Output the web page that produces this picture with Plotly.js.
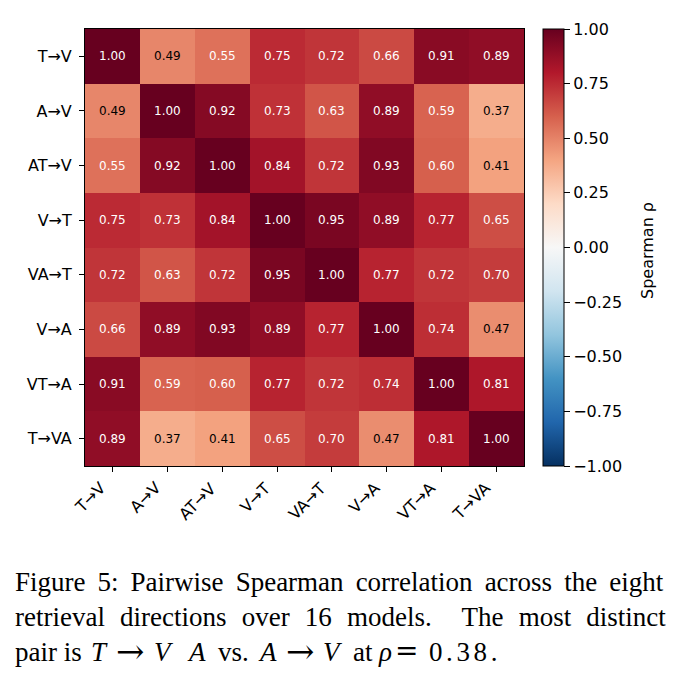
<!DOCTYPE html>
<html>
<head>
<meta charset="utf-8">
<script src="https://cdn.plot.ly/plotly-3.0.1.min.js"></script>
<style>
  html, body { margin: 0; padding: 0; background: #fff; }
  #chart { width: 686px; height: 685px; }
</style>
</head>
<body>
<div id="chart"></div>
<script>
// Retrieval directions (rows and columns of the correlation matrix)
const directions = ['T→V', 'A→V', 'AT→V', 'V→T', 'VA→T', 'V→A', 'VT→A', 'T→VA'];

// Spearman rho, one row per direction
const rowTV   = [1.00, 0.49, 0.55, 0.75, 0.72, 0.66, 0.91, 0.89];
const rowAV   = [0.49, 1.00, 0.92, 0.73, 0.63, 0.89, 0.59, 0.37];
const rowATV  = [0.55, 0.92, 1.00, 0.84, 0.72, 0.93, 0.60, 0.41];
const rowVT   = [0.75, 0.73, 0.84, 1.00, 0.95, 0.89, 0.77, 0.65];
const rowVAT  = [0.72, 0.63, 0.72, 0.95, 1.00, 0.77, 0.72, 0.70];
const rowVA   = [0.66, 0.89, 0.93, 0.89, 0.77, 1.00, 0.74, 0.47];
const rowVTA  = [0.91, 0.59, 0.60, 0.77, 0.72, 0.74, 1.00, 0.81];
const rowTVA  = [0.89, 0.37, 0.41, 0.65, 0.70, 0.47, 0.81, 1.00];

const colorbarTicks = [-1, -0.75, -0.5, -0.25, 0, 0.25, 0.5, 0.75, 1];

const rho = [rowTV, rowAV, rowATV, rowVT, rowVAT, rowVA, rowVTA, rowTVA];

// Diverging red-blue palette (reversed RdBu)
const rdbuR = [
  [0.0, '#053061'], [0.1, '#2166ac'], [0.2, '#4393c3'], [0.3, '#92c5de'],
  [0.4, '#d1e5f0'], [0.5, '#f7f7f7'], [0.6, '#fddbc7'], [0.7, '#f4a582'],
  [0.8, '#d6604d'], [0.9, '#b2182b'], [1.0, '#67001f']
];

const plotL = 85, plotW = 439, plotT = 29, plotH = 437;
const px = (p) => (p - plotL) / plotW;
const py = (p) => (plotT + plotH - p) / plotH;

const heat = {
  type: 'heatmap',
  x: directions,
  y: directions,
  z: rho,
  zmin: -1,
  zmax: 1,
  colorscale: rdbuR,
  xgap: 0, ygap: 0,
  hoverinfo: 'skip',
  colorbar: {
    x: px(543), xanchor: 'left', xpad: 0,
    y: 0.5, yanchor: 'middle', ypad: 0,
    len: 1, lenmode: 'fraction',
    thickness: 21,
    outlinecolor: '#000', outlinewidth: 1,
    ticks: 'outside', ticklen: 6, tickwidth: 1, tickcolor: '#000',
    tickvals: colorbarTicks,
    tickformat: '.2f',
    tickfont: { family: 'DejaVu Sans', size: 16, color: '#000' }
  }
};

// Value labels inside each cell; light text on strong colours
const notes = [];
rho.forEach((row, i) => {
  row.forEach((v, j) => {
    notes.push({
      x: directions[j], y: directions[i], xref: 'x', yref: 'y',
      text: v.toFixed(2), showarrow: false,
      font: { family: 'DejaVu Sans', size: 12, color: Math.abs(v) > 0.5 ? '#fff' : '#000' }
    });
  });
});

// Slanted column labels, right end tucked under each tick
directions.forEach((d) => {
  notes.push({
    x: d, xref: 'x', yref: 'paper', y: py(plotT + plotH + 10),
    xanchor: 'right', yanchor: 'top', textangle: -45, showarrow: false,
    text: d, font: { family: 'DejaVu Sans', size: 16, color: '#000' }
  });
});

// Colorbar label
notes.push({
  xref: 'paper', yref: 'paper', x: px(648), y: py(251),
  xanchor: 'center', yanchor: 'middle', textangle: -90, showarrow: false,
  text: 'Spearman ρ', font: { family: 'DejaVu Sans', size: 16, color: '#000' }
});

// Figure caption below the chart (first two lines are justified)
const serif = 'Liberation Serif';
const capSize = 27;
const justified = [
  { text: 'Figure 5: Pairwise Spearman correlation across the eight', ws: 5.3, base: 592 },
  { text: 'retrieval directions over 16 models.  The most distinct', ws: 8.4, base: 627 }
];
justified.forEach((ln) => {
  notes.push({
    xref: 'paper', yref: 'paper', x: px(13), y: py(ln.base + 7),
    xanchor: 'left', yanchor: 'bottom', showarrow: false, align: 'left',
    text: '<span style="word-spacing:' + ln.ws + 'px">' + ln.text + '</span>',
    font: { family: serif, size: capSize, color: '#000' }
  });
});

// Last line mixes text with inline math, set piece by piece
const mathSym = (s) => '<span style="font-family:DejaVu Serif">' + s + '</span>';
const lastBase = 662;
const lastLine = [
  { t: 'pair is', x: 13 },
  { t: '<i>T</i>', x: 89 },
  { t: mathSym('→'), x: 114, arrow: true },
  { t: '<i>V</i>', x: 152 },
  { t: '<i>A</i>', x: 185 },
  { t: 'vs.', x: 216 },
  { t: '<i>A</i>', x: 256 },
  { t: mathSym('→'), x: 284, arrow: true },
  { t: '<i>V</i>', x: 321 },
  { t: 'at', x: 351 },
  { t: '<i>ρ</i>', x: 376 },
  { t: mathSym('='), x: 393, size: 28 },
  { t: '<span style="letter-spacing:3.6px">0.38.</span>', x: 427 }
];
lastLine.forEach((seg) => {
  const note = {
    xref: 'paper', yref: 'paper', x: px(seg.x), y: py(lastBase + 7),
    xanchor: 'left', yanchor: 'bottom', showarrow: false, align: 'left',
    text: seg.t,
    font: { family: serif, size: seg.size || capSize, color: '#000' }
  };
  if (seg.arrow) {
    // larger arrow glyph in a short box so it stays within its own line
    Object.assign(note, {
      y: py(lastBase - 11), yanchor: 'middle', valign: 'middle',
      height: 22, font: { family: serif, size: 34, color: '#000' }
    });
  }
  notes.push(note);
});

const axisCommon = {
  type: 'category',
  showgrid: false, zeroline: false,
  showline: true, mirror: true, linecolor: '#000', linewidth: 1,
  ticks: 'outside', ticklen: 5, tickwidth: 1, tickcolor: '#000',
  ticklabelstandoff: 4,
  tickfont: { family: 'DejaVu Sans', size: 16, color: '#000' }
};

const nCols = directions.length;

const layout = {
  width: 686, height: 685,
  margin: { l: plotL, r: 686 - plotL - plotW, t: plotT, b: 685 - plotT - plotH, pad: 0 },
  paper_bgcolor: '#fff', plot_bgcolor: '#fff',
  xaxis: Object.assign({}, axisCommon, {
    showticklabels: false, autorange: false, range: [-0.5, nCols - 0.5]
  }),
  yaxis: Object.assign({}, axisCommon, { autorange: false, range: [nCols - 0.5, -0.5] }),
  annotations: notes,
  showlegend: false
};

Plotly.newPlot('chart', [heat], layout, { staticPlot: true, displayModeBar: false });
</script>
</body>
</html>
